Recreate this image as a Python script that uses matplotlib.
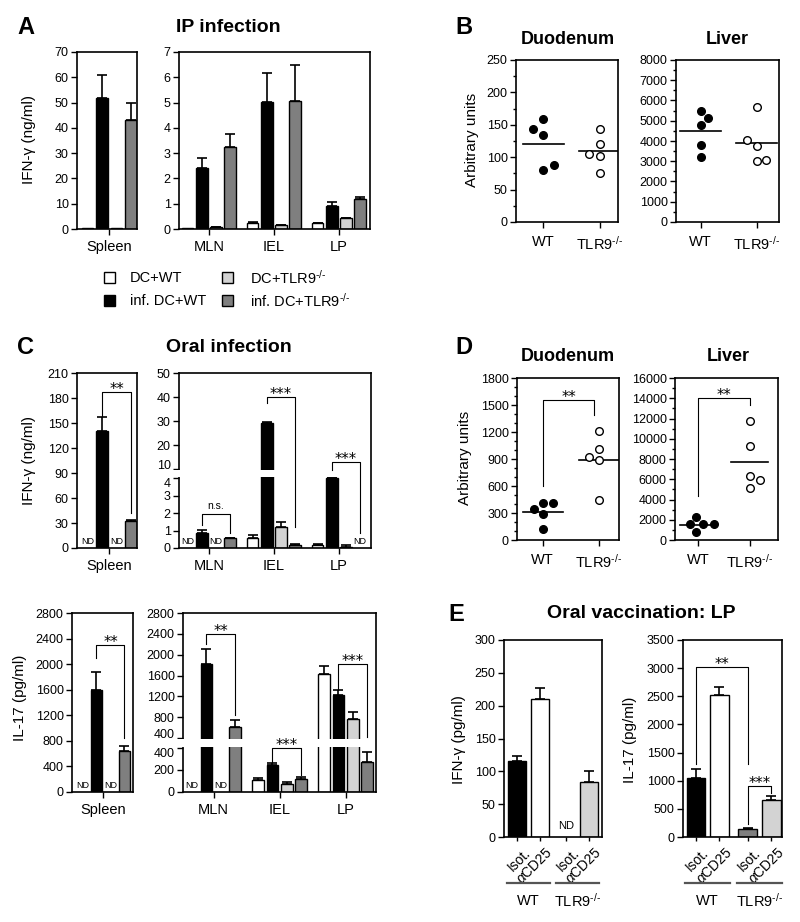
import numpy as np
import matplotlib
matplotlib.use('Agg')
import matplotlib.pyplot as plt
from matplotlib.patches import Rectangle
from matplotlib.lines import Line2D
from matplotlib.ticker import FixedLocator, MultipleLocator
import matplotlib.transforms as mtrans

plt.rcParams['font.family'] = ['Liberation Sans', 'DejaVu Sans']
plt.rcParams['mathtext.fontset'] = 'custom'
plt.rcParams['mathtext.rm'] = 'Liberation Sans'
plt.rcParams['mathtext.it'] = 'Liberation Sans:italic'
plt.rcParams['mathtext.bf'] = 'Liberation Sans:bold'

KO = 'TLR9$^{\u2010/\u2010}$'

# ---------------- DATA ----------------
series_labels = ['DC+WT', 'inf. DC+WT', 'DC+' + KO, 'inf. DC+' + KO]
series_colors = ['white', 'black', '#d3d3d3', '#7f7f7f']
tissues = ['MLN', 'IEL', 'LP']
ND = None

# A: IP infection, IFN-gamma (ng/ml)
a_spleen = [0.4, 52, 0.4, 43]
a_spleen_err = [0, 9, 0, 7]
a_tissue = {'MLN': [0.03, 2.4, 0.07, 3.25],
            'IEL': [0.25, 5.03, 0.15, 5.08],
            'LP':  [0.22, 0.9, 0.42, 1.18]}
a_tissue_err = {'MLN': [0, 0.42, 0.02, 0.52],
                'IEL': [0.04, 1.12, 0.02, 1.42],
                'LP':  [0.02, 0.15, 0.03, 0.1]}

# C top: oral infection, IFN-gamma (ng/ml)
c_ifn_spleen = [ND, 140, ND, 33]
c_ifn_spleen_err = [0, 17, 0, 1]
c_ifn_tissue = {'MLN': [ND, 0.85, ND, 0.55],
                'IEL': [0.6, 29, 1.2, 0.15],
                'LP':  [0.2, 4.0, 0.08, ND]}
c_ifn_tissue_err = {'MLN': [0, 0.18, 0, 0.03],
                    'IEL': [0.12, 0.7, 0.27, 0.06],
                    'LP':  [0.05, 0.02, 0.08, 0]}

# C bottom: oral infection, IL-17 (pg/ml)
c_il_spleen = [ND, 1590, ND, 640]
c_il_spleen_err = [0, 280, 0, 80]
c_il_tissue = {'MLN': [ND, 1830, ND, 610],
               'IEL': [110, 245, 70, 120],
               'LP':  [1620, 1220, 760, 270]}
c_il_tissue_err = {'MLN': [0, 280, 0, 135],
                   'IEL': [15, 20, 18, 18],
                   'LP':  [170, 95, 130, 90]}

# B: IP infection, arbitrary units (WT / TLR9-/-)
b_duo_wt = [144, 159, 134, 81, 88]
b_duo_wt_dx = [-0.18, 0, 0, 0, 0.18]
b_duo_ko = [105, 143, 120, 102, 75]
b_duo_ko_dx = [-0.18, 0, 0, 0, 0]
b_duo_mean = [121, 109]
b_liv_wt = [5500, 5150, 4770, 3790, 3200]
b_liv_wt_dx = [0, 0.14, 0, 0, 0]
b_liv_ko = [4060, 5680, 3775, 3000, 3060]
b_liv_ko_dx = [-0.18, 0, 0, 0, 0.17]
b_liv_mean = [4490, 3920]

# D: oral infection, arbitrary units
d_duo_wt = [345, 408, 408, 290, 126]
d_duo_wt_dx = [-0.16, 0, 0.19, 0, 0]
d_duo_ko = [1210, 1010, 917, 884, 442]
d_duo_ko_dx = [0, 0, -0.18, 0, 0]
d_duo_mean = [308, 887]
d_liv_wt = [2310, 1620, 1620, 1620, 760]
d_liv_wt_dx = [-0.04, -0.16, 0.1, 0.3, -0.04]
d_liv_ko = [11780, 9300, 6330, 5900, 5110]
d_liv_ko_dx = [0, 0, 0, 0.21, 0]
d_liv_mean = [1480, 7690]

# E: oral vaccination LP
e_labels = ['Isot.', r'$\alpha$CD25', 'Isot.', r'$\alpha$CD25']
e_groups = ['WT', KO]
e_ifn = [115, 210, ND, 83]
e_ifn_err = [9, 17, 0, 18]
e_il = [1050, 2520, 140, 660]
e_il_err = [160, 150, 25, 75]
e_ifn_colors = ['black', 'white', '#7f7f7f', '#d3d3d3']
e_il_colors = ['black', 'white', '#7f7f7f', '#d3d3d3']

# ---------------- LAYOUT ----------------
W, H = 800, 922
fig = plt.figure(figsize=(8, 9.22), dpi=100)
TICK_FS = 9
LAB_FS = 10.5
YLAB_FS = 11
TITLE_FS = 14
SUB_FS = 13
LET_FS = 17


def axpx(x0, y0, x1, y1):
    ax = fig.add_axes([x0 / W, 1 - y1 / H, (x1 - x0) / W, (y1 - y0) / H])
    for s in ax.spines.values():
        s.set_linewidth(1.2)
    ax.tick_params(direction='out', length=4, width=1, labelsize=TICK_FS, pad=2)
    ax.tick_params(axis='x', labelsize=LAB_FS, pad=4)
    return ax


def ftext(x, y, s, **kw):
    fig.text(x / W, 1 - y / H, s, **kw)


BW = 0.82
GSTEP = 4.58


def draw_bars(ax, xs, vals, errs, colors, width=BW, nd_fs=6.5, nd_off=1.5):
    for x, v, e, c in zip(xs, vals, errs, colors):
        if v is None:
            ax.annotate('ND', (x, 0), xytext=(0, nd_off), textcoords='offset points',
                        ha='center', va='bottom', fontsize=nd_fs, zorder=4)
            continue
        ax.bar(x, v, width=width, color=c, edgecolor='black', linewidth=1, zorder=2)
        if e > 0:
            ax.errorbar([x], [v], yerr=[[0], [e]], fmt='none', ecolor='black',
                        elinewidth=1.2, capsize=3.3, capthick=1.2, zorder=1.9)


def bracket(ax, x1, x2, ytop, yl1, yl2, label):
    ax.plot([x1, x1, x2, x2], [yl1, ytop, ytop, yl2], color='black', lw=0.8,
            zorder=3.5, clip_on=False)
    if label == 'n.s.':
        ax.annotate(label, ((x1 + x2) / 2, ytop), xytext=(0, 2), textcoords='offset points',
                    ha='center', va='bottom', fontsize=7.5, zorder=4)
    else:
        ax.annotate(label, ((x1 + x2) / 2, ytop), xytext=(0, -1.5), textcoords='offset points',
                    ha='center', va='baseline', fontsize=10.5, family='DejaVu Sans', zorder=4)


def add_band(ax, f0, f1, width_px):
    ax.add_patch(Rectangle((-0.05, f0), 1.05 - 1.0 / width_px, f1 - f0, transform=ax.transAxes,
                           facecolor='white', edgecolor='none', zorder=2.8, clip_on=False))


def split_labels(ax, lower_idx, upper_idx):
    ticks = ax.yaxis.get_major_ticks()
    ticks[lower_idx].label1.set_va('top')
    ticks[upper_idx].label1.set_va('baseline')


def spleen_axis(ax, vals, errs, xlim):
    draw_bars(ax, range(4), vals, errs, series_colors)
    ax.set_xlim(*xlim)
    ax.set_xticks([1.5])
    ax.set_xticklabels(['Spleen'])


def tissue_axis(ax, vals, errs, xlim):
    for g, t in enumerate(tissues):
        xs = [g * GSTEP + i for i in range(4)]
        draw_bars(ax, xs, vals[t], errs[t], series_colors)
    ax.set_xlim(*xlim)
    ax.set_xticks([g * GSTEP + 1.5 for g in range(3)])
    ax.set_xticklabels(tissues)


def gpos(g, i):
    return g * GSTEP + i


# ---------- Panel A ----------
ax = axpx(77, 52, 137, 229)
spleen_axis(ax, a_spleen, a_spleen_err, (-0.72, 3.41))
ax.set_ylim(0, 70)
ax.set_yticks(range(0, 71, 10))

ax = axpx(179, 52, 370, 229)
tissue_axis(ax, a_tissue, a_tissue_err, (-0.6, 12.85))
ax.set_ylim(0, 7)
ax.set_yticks(range(0, 8))

ftext(26, 27, 'A', fontsize=LET_FS, fontweight='bold', ha='center', va='center')
ftext(228, 28, 'IP infection', fontsize=TITLE_FS, fontweight='bold', ha='center', va='center')
ftext(29, 140, 'IFN-γ (ng/ml)', fontsize=YLAB_FS, rotation=90, ha='center', va='center')

# legend
leg_cols = [(104, 130), (222, 250)]
leg_rows = [278, 301]
order = [(0, 0), (1, 0), (0, 1), (1, 1)]
for k, (r, c) in enumerate(order):
    sx, tx = leg_cols[c]
    cy = leg_rows[r]
    fig.add_artist(Rectangle((sx / W, 1 - (cy + 5.5) / H), 11 / W, 11 / H,
                             transform=fig.transFigure, facecolor=series_colors[k],
                             edgecolor='black', linewidth=1))
    ftext(tx, cy, series_labels[k], fontsize=LAB_FS, ha='left', va='center')

# ---------- Panel C top ----------
ax = axpx(77, 373, 137, 548)
spleen_axis(ax, c_ifn_spleen, c_ifn_spleen_err, (-0.72, 3.41))
ax.set_ylim(0, 210)
ax.set_yticks(range(0, 211, 30))
bracket(ax, 1, 3, 187, 158, 42, '**')


def fwd_ifn(y):
    y = np.asarray(y, dtype=float)
    return np.where(y <= 4, y * 17.5, np.where(y < 10, 70 + (y - 4) * 1.5, 79 + (y - 10) * 2.4))


def inv_ifn(p):
    p = np.asarray(p, dtype=float)
    return np.where(p <= 70, p / 17.5, np.where(p < 79, 4 + (p - 70) / 1.5, 10 + (p - 79) / 2.4))


ax = axpx(179, 373, 371, 548)
ax.set_yscale('function', functions=(fwd_ifn, inv_ifn))
tissue_axis(ax, c_ifn_tissue, c_ifn_tissue_err, (-0.6, 12.92))
ax.set_ylim(0, 50)
ifn_ticks = [0, 1, 2, 3, 4, 10, 20, 30, 40, 50]
ax.yaxis.set_major_locator(FixedLocator(ifn_ticks))
ax.set_yticklabels([str(t) for t in ifn_ticks])
ax.yaxis.set_minor_locator(FixedLocator([]))
split_labels(ax, 4, 5)
add_band(ax, 71 / 175, 78 / 175, 192)
bracket(ax, gpos(0, 1), gpos(0, 3), 1.95, 1.3, 0.85, 'n.s.')
bracket(ax, gpos(1, 1), gpos(1, 3), 40, 37.5, 1.2, '***')
bracket(ax, gpos(2, 1), gpos(2, 3), 13, 9.5, 0.85, '***')

ftext(26, 348, 'C', fontsize=LET_FS, fontweight='bold', ha='center', va='center')
ftext(229, 348, 'Oral infection', fontsize=TITLE_FS, fontweight='bold', ha='center', va='center')
ftext(29, 460, 'IFN-γ (ng/ml)', fontsize=YLAB_FS, rotation=90, ha='center', va='center')

# ---------- Panel C bottom ----------
ax = axpx(72, 613, 133, 792)
spleen_axis(ax, c_il_spleen, c_il_spleen_err, (-0.75, 3.61))
ax.set_ylim(0, 2800)
ax.set_yticks(range(0, 2801, 400))
bracket(ax, 1, 3, 2300, 2100, 850, '**')

K_UP = 125 / 2400.0


def fwd_il(y):
    y = np.asarray(y, dtype=float)
    return np.where(y <= 400, y * 0.11, 54 + (y - 400) * K_UP)


def inv_il(p):
    p = np.asarray(p, dtype=float)
    return np.where(p <= 44, p / 0.11, np.where(p < 54, 400, 400 + (p - 54) / K_UP))


ax = axpx(183, 613, 376, 792)
ax.set_yscale('function', functions=(fwd_il, inv_il))
tissue_axis(ax, c_il_tissue, c_il_tissue_err, (-0.63, 12.77))
ax.set_ylim(0, 2800)
il_ticks = [0, 200, 400, 400.0001, 800, 1200, 1600, 2000, 2400, 2800]
ax.yaxis.set_major_locator(FixedLocator(il_ticks))
ax.set_yticklabels(['0', '200', '400', '400', '800', '1200', '1600', '2000', '2400', '2800'])
ax.yaxis.set_minor_locator(FixedLocator([]))
split_labels(ax, 2, 3)
add_band(ax, 44.6 / 179, 53.4 / 179, 193)
bracket(ax, gpos(0, 1), gpos(0, 3), 2400, 2200, 840, '**')
bracket(ax, gpos(1, 1), gpos(1, 3), 400, 275, 155, '***')
bracket(ax, gpos(2, 1), gpos(2, 3), 1820, 1330, 410, '***')

ftext(20, 698, 'IL-17 (pg/ml)', fontsize=YLAB_FS, rotation=90, ha='center', va='center')


# ---------- Panels B and D ----------
def dot_axis(ax, wt, wtdx, ko, kodx, means, xlim, ylim, major, minor):
    ax.plot([1 + d for d in wtdx], wt, 'o', color='black', ms=5.5, zorder=3, clip_on=False)
    ax.plot([2 + d for d in kodx], ko, 'o', mfc='white', mec='black', mew=1, ms=5.5,
            zorder=3, clip_on=False)
    for x, m in zip([1, 2], means):
        ax.plot([x - 0.36, x + 0.36], [m, m], color='black', lw=1.2, zorder=2)
    ax.set_xlim(*xlim)
    ax.set_ylim(*ylim)
    ax.yaxis.set_major_locator(MultipleLocator(major))
    ax.yaxis.set_minor_locator(MultipleLocator(minor))
    ax.tick_params(axis='y', which='minor', length=2.5, width=1)
    ax.set_xticks([1, 2])
    ax.set_xticklabels(['WT', KO])
    ax.tick_params(axis='x', pad=5)


ax = axpx(516, 60, 618, 222)
dot_axis(ax, b_duo_wt, b_duo_wt_dx, b_duo_ko, b_duo_ko_dx, b_duo_mean, (0.51, 2.33), (0, 250), 50, 25)
ax = axpx(676, 60, 779, 222)
dot_axis(ax, b_liv_wt, b_liv_wt_dx, b_liv_ko, b_liv_ko_dx, b_liv_mean, (0.56, 2.4), (0, 8000), 1000, 500)

ftext(464, 28, 'B', fontsize=LET_FS, fontweight='bold', ha='center', va='center')
ftext(568, 39, 'Duodenum', fontsize=SUB_FS, fontweight='bold', ha='center', va='center')
ftext(727, 39, 'Liver', fontsize=SUB_FS, fontweight='bold', ha='center', va='center')
ftext(472, 140, 'Arbitrary units', fontsize=YLAB_FS, rotation=90, ha='center', va='center')

ax = axpx(517, 378, 619, 540)
dot_axis(ax, d_duo_wt, d_duo_wt_dx, d_duo_ko, d_duo_ko_dx, d_duo_mean, (0.54, 2.36), (0, 1800), 300, 100)
bracket(ax, 1, 1.92, 1560, 600, 1390, '**')
ax = axpx(675, 378, 778, 540)
dot_axis(ax, d_liv_wt, d_liv_wt_dx, d_liv_ko, d_liv_ko_dx, d_liv_mean, (0.55, 2.55), (0, 16000), 2000, 1000)
bracket(ax, 1, 2, 14000, 4300, 13350, '**')

ftext(464, 347, 'D', fontsize=LET_FS, fontweight='bold', ha='center', va='center')
ftext(568, 356, 'Duodenum', fontsize=SUB_FS, fontweight='bold', ha='center', va='center')
ftext(728, 356, 'Liver', fontsize=SUB_FS, fontweight='bold', ha='center', va='center')
ftext(465, 458, 'Arbitrary units', fontsize=YLAB_FS, rotation=90, ha='center', va='center')

# ---------- Panel E ----------
E_POS = [0, 1, 2.2, 3.2]


def e_axis(ax, vals, errs, colors, xlim, ylim, step, ypx_h):
    draw_bars(ax, E_POS, vals, errs, colors, width=0.8, nd_fs=8, nd_off=4)
    ax.set_xlim(*xlim)
    ax.set_ylim(*ylim)
    ax.yaxis.set_major_locator(MultipleLocator(step))
    ax.set_xticks(E_POS)
    ax.set_xticklabels(e_labels, rotation=45, ha='right', rotation_mode='anchor', fontsize=10)
    ax.tick_params(axis='x', length=3, pad=3)
    shift = mtrans.ScaledTranslation(6 / 100, 0, fig.dpi_scale_trans)
    for lab in ax.get_xticklabels():
        lab.set_transform(lab.get_transform() + shift)
    tr = mtrans.blended_transform_factory(ax.transData, ax.transAxes)
    ly = -46 / ypx_h
    ty = -64 / ypx_h
    for c, lab in zip([0.5, 2.7], e_groups):
        ax.add_line(Line2D([c - 0.96, c + 0.96], [ly, ly], transform=tr, color='#555555',
                           lw=1.6, clip_on=False))
        ax.text(c, ty, lab, transform=tr, ha='center', va='center', fontsize=LAB_FS)


ax = axpx(504, 640, 602, 837)
e_axis(ax, e_ifn, e_ifn_err, e_ifn_colors, (-0.58, 3.78), (0, 300), 50, 197)
ax = axpx(683, 640, 782, 837)
e_axis(ax, e_il, e_il_err, e_il_colors, (-0.55, 3.66), (0, 3500), 500, 197)
bracket(ax, 0, 2.2, 3020, 1290, 1290, '**')
bracket(ax, 2.2, 3.2, 900, 230, 780, '***')

ftext(456, 614, 'E', fontsize=LET_FS, fontweight='bold', ha='center', va='center')
ftext(641, 613, 'Oral vaccination: LP', fontsize=TITLE_FS, fontweight='bold', ha='center', va='center')
ftext(459, 740, 'IFN-γ (pg/ml)', fontsize=YLAB_FS, rotation=90, ha='center', va='center')
ftext(630, 740, 'IL-17 (pg/ml)', fontsize=YLAB_FS, rotation=90, ha='center', va='center')

fig.savefig('out.png', dpi=100, facecolor='white')
